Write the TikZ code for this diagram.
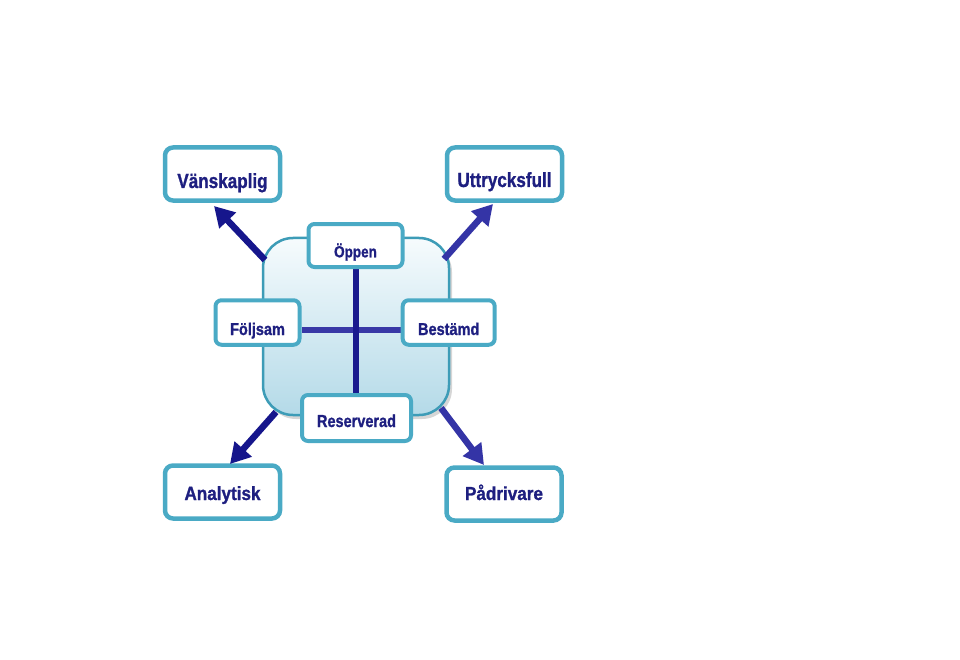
\documentclass[tikz,border=0pt]{standalone}
\usepackage{fontspec}
\setmainfont{Liberation Sans}[BoldFeatures={FakeBold=1.2}]
\usetikzlibrary{arrows.meta,shadows}
\definecolor{teal}{HTML}{4AAAC5}
\definecolor{tealdark}{HTML}{3D9CB7}
\definecolor{navy}{HTML}{1E1F80}
\definecolor{arrowA}{HTML}{16168C}
\definecolor{arrowB}{HTML}{3434A6}
\definecolor{lineH}{HTML}{3838A6}
\definecolor{lineV}{HTML}{1A1A8E}
\definecolor{sqtop}{HTML}{F6FBFD}
\definecolor{sqbot}{HTML}{B4DAE8}
\pgfdeclarelayer{bglayer}
\pgfdeclarelayer{sqlayer}
\pgfdeclarelayer{linelayer}
\pgfsetlayers{bglayer,sqlayer,linelayer,main}
\newcommand\boxtext[3]{\raisebox{-#1}[0pt][0pt]{\scalebox{1}[#2]{#3}}}
\tikzset{
  bigbox/.style={draw=teal, line width=4.5bp, fill=white, rounded corners=8bp,
    minimum width=115bp, minimum height=53bp, inner sep=0pt,
    font=\fontsize{17.1bp}{20bp}\selectfont\bfseries, text=navy},
  smallbox/.style={draw=teal, line width=4bp, fill=white, rounded corners=6bp,
    inner sep=0pt, font=\fontsize{14.5bp}{17bp}\selectfont\bfseries, text=navy},
  sq/.style={draw=tealdark, line width=2.5bp, rounded corners=30bp,
    top color=sqtop, bottom color=sqbot,
    minimum width=186bp, minimum height=177bp, inner sep=0pt,
    drop shadow={shadow xshift=3bp, shadow yshift=-4bp, opacity=0.45, fill=gray!70}},
  arrA/.style={draw=arrowA, line width=6.5bp, -{Triangle[length=20bp,width=22bp]}},
  arrB/.style={draw=arrowB, line width=6.5bp, -{Triangle[length=20bp,width=22bp]}},
}
\begin{document}
\begin{tikzpicture}[x=1bp,y=-1bp]
\begin{pgfonlayer}{bglayer}
\fill[white] (0,0) rectangle (960,660);
\end{pgfonlayer}
\useasboundingbox (0,0) rectangle (960,660);

\begin{pgfonlayer}{sqlayer}
\node[sq] (sq) at (356,326.5) {};
\end{pgfonlayer}

% small boxes
\node[smallbox, minimum width=94bp, minimum height=43bp] (op) at (355.5,245.5)
  {\fontsize{13.5bp}{16bp}\selectfont\boxtext{11.8bp}{1.2}{Öppen}};
\node[smallbox, minimum width=84bp, minimum height=44.5bp] (fo) at (257.5,322.5)
  {\boxtext{12.5bp}{1.18}{Följsam}};
\node[smallbox, minimum width=92bp, minimum height=44.5bp] (be) at (448.7,322.5)
  {\boxtext{12.5bp}{1.18}{Bestämd}};
\node[smallbox, minimum width=109bp, minimum height=46bp] (re) at (356.5,418)
  {\boxtext{9bp}{1.2}{Reserverad}};

% cross lines
\begin{pgfonlayer}{linelayer}
\draw[lineH, line width=6.5bp] ([yshift=-7.5bp]fo.east) -- ([yshift=-7.5bp]be.west);
\draw[lineV, line width=6bp] (op.south) -- (op.south |- re.north);
\end{pgfonlayer}

% big boxes
\node[bigbox] (va) at (222.5,174) {\boxtext{14bp}{1.2}{Vänskaplig}};
\node[bigbox] (ut) at (504.5,174) {\boxtext{13bp}{1.2}{Uttrycksfull}};
\node[bigbox] (an) at (222.5,492) {\boxtext{8bp}{1.12}{Analytisk}};
\node[bigbox] (pa) at (504,494) {\boxtext{6bp}{1.1}{Pådrivare}};

% arrow anchors
\coordinate (s1) at (265,260);
\coordinate (e1) at (214,206);
\coordinate (s2) at (444,259);
\coordinate (e2) at (493,204);
\coordinate (s3) at (276,412);
\coordinate (e3) at (230,464);
\coordinate (s4) at (441,408);
\coordinate (e4) at (484,465);

\draw[arrA] (s1) -- (e1);
\draw[arrB] (s2) -- (e2);
\draw[arrA] (s3) -- (e3);
\draw[arrB] (s4) -- (e4);
\end{tikzpicture}
\end{document}
